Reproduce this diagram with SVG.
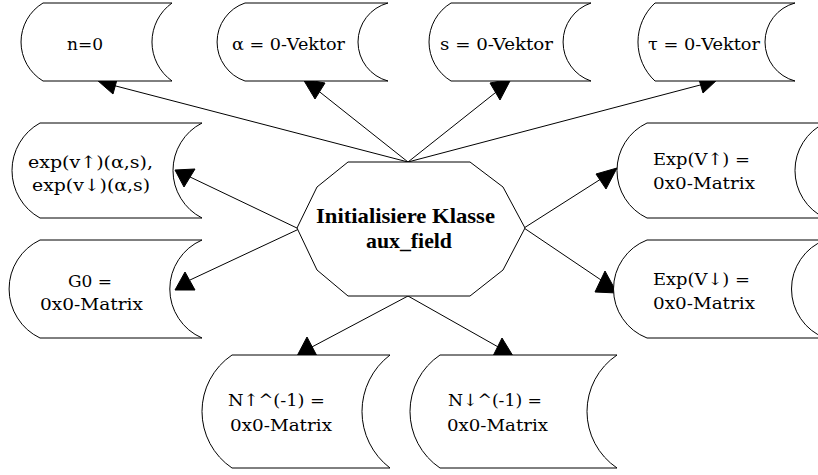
<svg xmlns="http://www.w3.org/2000/svg" width="818" height="475" viewBox="0 0 818 475">
<style>
.shape{fill:#fff;stroke:#000;stroke-width:1}
.t{font-family:"DejaVu Serif","Liberation Serif",serif;font-size:17px;fill:#000}
.tb{font-family:"Liberation Serif","Times New Roman",serif;font-size:22px;font-weight:bold;fill:#000}
.ln{stroke:#000;stroke-width:1;fill:none}
.ah{fill:#000;stroke:#000;stroke-width:1}
</style>
<rect width="818" height="475" fill="#fff"/>
<g id="connectors">
<line class="ln" x1="408" y1="162" x2="112" y2="85"/>
<polygon class="ah" points="97,80 118,76 113,94"/>
<line class="ln" x1="408" y1="162" x2="316" y2="89"/>
<polygon class="ah" points="303,79 325,83 315,99"/>
<line class="ln" x1="408" y1="162" x2="500" y2="89"/>
<polygon class="ah" points="511,79 490,83 500,100"/>
<line class="ln" x1="408" y1="162" x2="704" y2="84"/>
<polygon class="ah" points="718,79 698,76 703,93"/>
<line class="ln" x1="299" y1="229" x2="188" y2="176"/>
<polygon class="ah" points="175,170 195,169 184,187"/>
<line class="ln" x1="299" y1="229" x2="190" y2="280"/>
<polygon class="ah" points="185,272 175,290 195,290"/>
<line class="ln" x1="524" y1="228" x2="604" y2="177"/>
<polygon class="ah" points="596,174 617,168 606,189"/>
<line class="ln" x1="524" y1="228" x2="604" y2="282"/>
<polygon class="ah" points="605,271 595,292 617,293"/>
<line class="ln" x1="408" y1="296" x2="310" y2="348"/>
<polygon class="ah" points="307,337 297,356 317,356"/>
<line class="ln" x1="408" y1="296" x2="500" y2="348"/>
<polygon class="ah" points="502,338 493,356 513,356"/>
</g>
<g id="center">
<polygon class="shape" points="348,162 317,187 297,228 317,270 348,296 470,296 503,270 525,228 503,187 470,162"/>
<text class="tb" x="316" y="223" textLength="179" lengthAdjust="spacingAndGlyphs">Initialisiere Klasse</text>
<text class="tb" x="366" y="248" textLength="86" lengthAdjust="spacingAndGlyphs">aux_field</text>
</g>
<g id="n0">
<path class="shape" d="M43,3 H172 A48,48 0 0 0 172,81 H43 A45.6,45.6 0 0 1 43,3 Z"/>
<text class="t" x="67" y="50" textLength="36" lengthAdjust="spacingAndGlyphs">n=0</text>
</g>
<g id="alpha">
<path class="shape" d="M245,3 H388 A40.35,40.35 0 0 0 388,81 H245 A41.2,41.2 0 0 1 245,3 Z"/>
<text class="t" x="232" y="50" textLength="113" lengthAdjust="spacingAndGlyphs">α = 0-Vektor</text>
</g>
<g id="s">
<path class="shape" d="M451,3 H591 A41.2,41.2 0 0 0 591,81 H451 A45.6,45.6 0 0 1 451,3 Z"/>
<text class="t" x="440" y="50" textLength="113" lengthAdjust="spacingAndGlyphs">s = 0-Vektor</text>
</g>
<g id="tau">
<path class="shape" d="M655,3 H795 A40.35,40.35 0 0 0 795,81 H655 A53.2,53.2 0 0 1 655,3 Z"/>
<text class="t" x="648" y="50" textLength="112" lengthAdjust="spacingAndGlyphs">τ = 0-Vektor</text>
</g>
<g id="expv">
<path class="shape" d="M40,123 H202 A53.4,53.4 0 0 0 202,218 H40 A54.3,54.3 0 0 1 40,123 Z"/>
<text class="t" x="28" y="168" textLength="125" lengthAdjust="spacingAndGlyphs">exp(v↑)(α,s),</text>
<text class="t" x="32" y="191" textLength="118" lengthAdjust="spacingAndGlyphs">exp(v↓)(α,s)</text>
</g>
<g id="g0">
<path class="shape" d="M40,240 H202 A53.4,53.4 0 0 0 202,338 H40 A54.3,54.3 0 0 1 40,240 Z"/>
<text class="t" x="68" y="287" textLength="44" lengthAdjust="spacingAndGlyphs">G0 =</text>
<text class="t" x="40" y="310" textLength="103" lengthAdjust="spacingAndGlyphs">0x0-Matrix</text>
</g>
<g id="expup">
<path class="shape" d="M647,123 H825 A52.6,52.6 0 0 0 825,218 H647 A52.6,52.6 0 0 1 647,123 Z"/>
<text class="t" x="653" y="165" textLength="97" lengthAdjust="spacingAndGlyphs">Exp(V↑) =</text>
<text class="t" x="653" y="189" textLength="102" lengthAdjust="spacingAndGlyphs">0x0-Matrix</text>
</g>
<g id="expdown">
<path class="shape" d="M647,240 H825 A52.6,52.6 0 0 0 825,338 H647 A52.6,52.6 0 0 1 647,240 Z"/>
<text class="t" x="653" y="285" textLength="97" lengthAdjust="spacingAndGlyphs">Exp(V↓) =</text>
<text class="t" x="653" y="309" textLength="102" lengthAdjust="spacingAndGlyphs">0x0-Matrix</text>
</g>
<g id="nup">
<path class="shape" d="M232,355 H390 A71,71 0 0 0 390,468 H232 A68.2,68.2 0 0 1 232,355 Z"/>
<text class="t" x="228" y="406" textLength="97" lengthAdjust="spacingAndGlyphs">N↑^(-1) =</text>
<text class="t" x="230" y="431" textLength="102" lengthAdjust="spacingAndGlyphs">0x0-Matrix</text>
</g>
<g id="ndown">
<path class="shape" d="M440,355 H617 A68.2,68.2 0 0 0 617,468 H440 A68.2,68.2 0 0 1 440,355 Z"/>
<text class="t" x="448" y="406" textLength="94" lengthAdjust="spacingAndGlyphs">N↓^(-1) =</text>
<text class="t" x="447" y="431" textLength="101" lengthAdjust="spacingAndGlyphs">0x0-Matrix</text>
</g>
</svg>
